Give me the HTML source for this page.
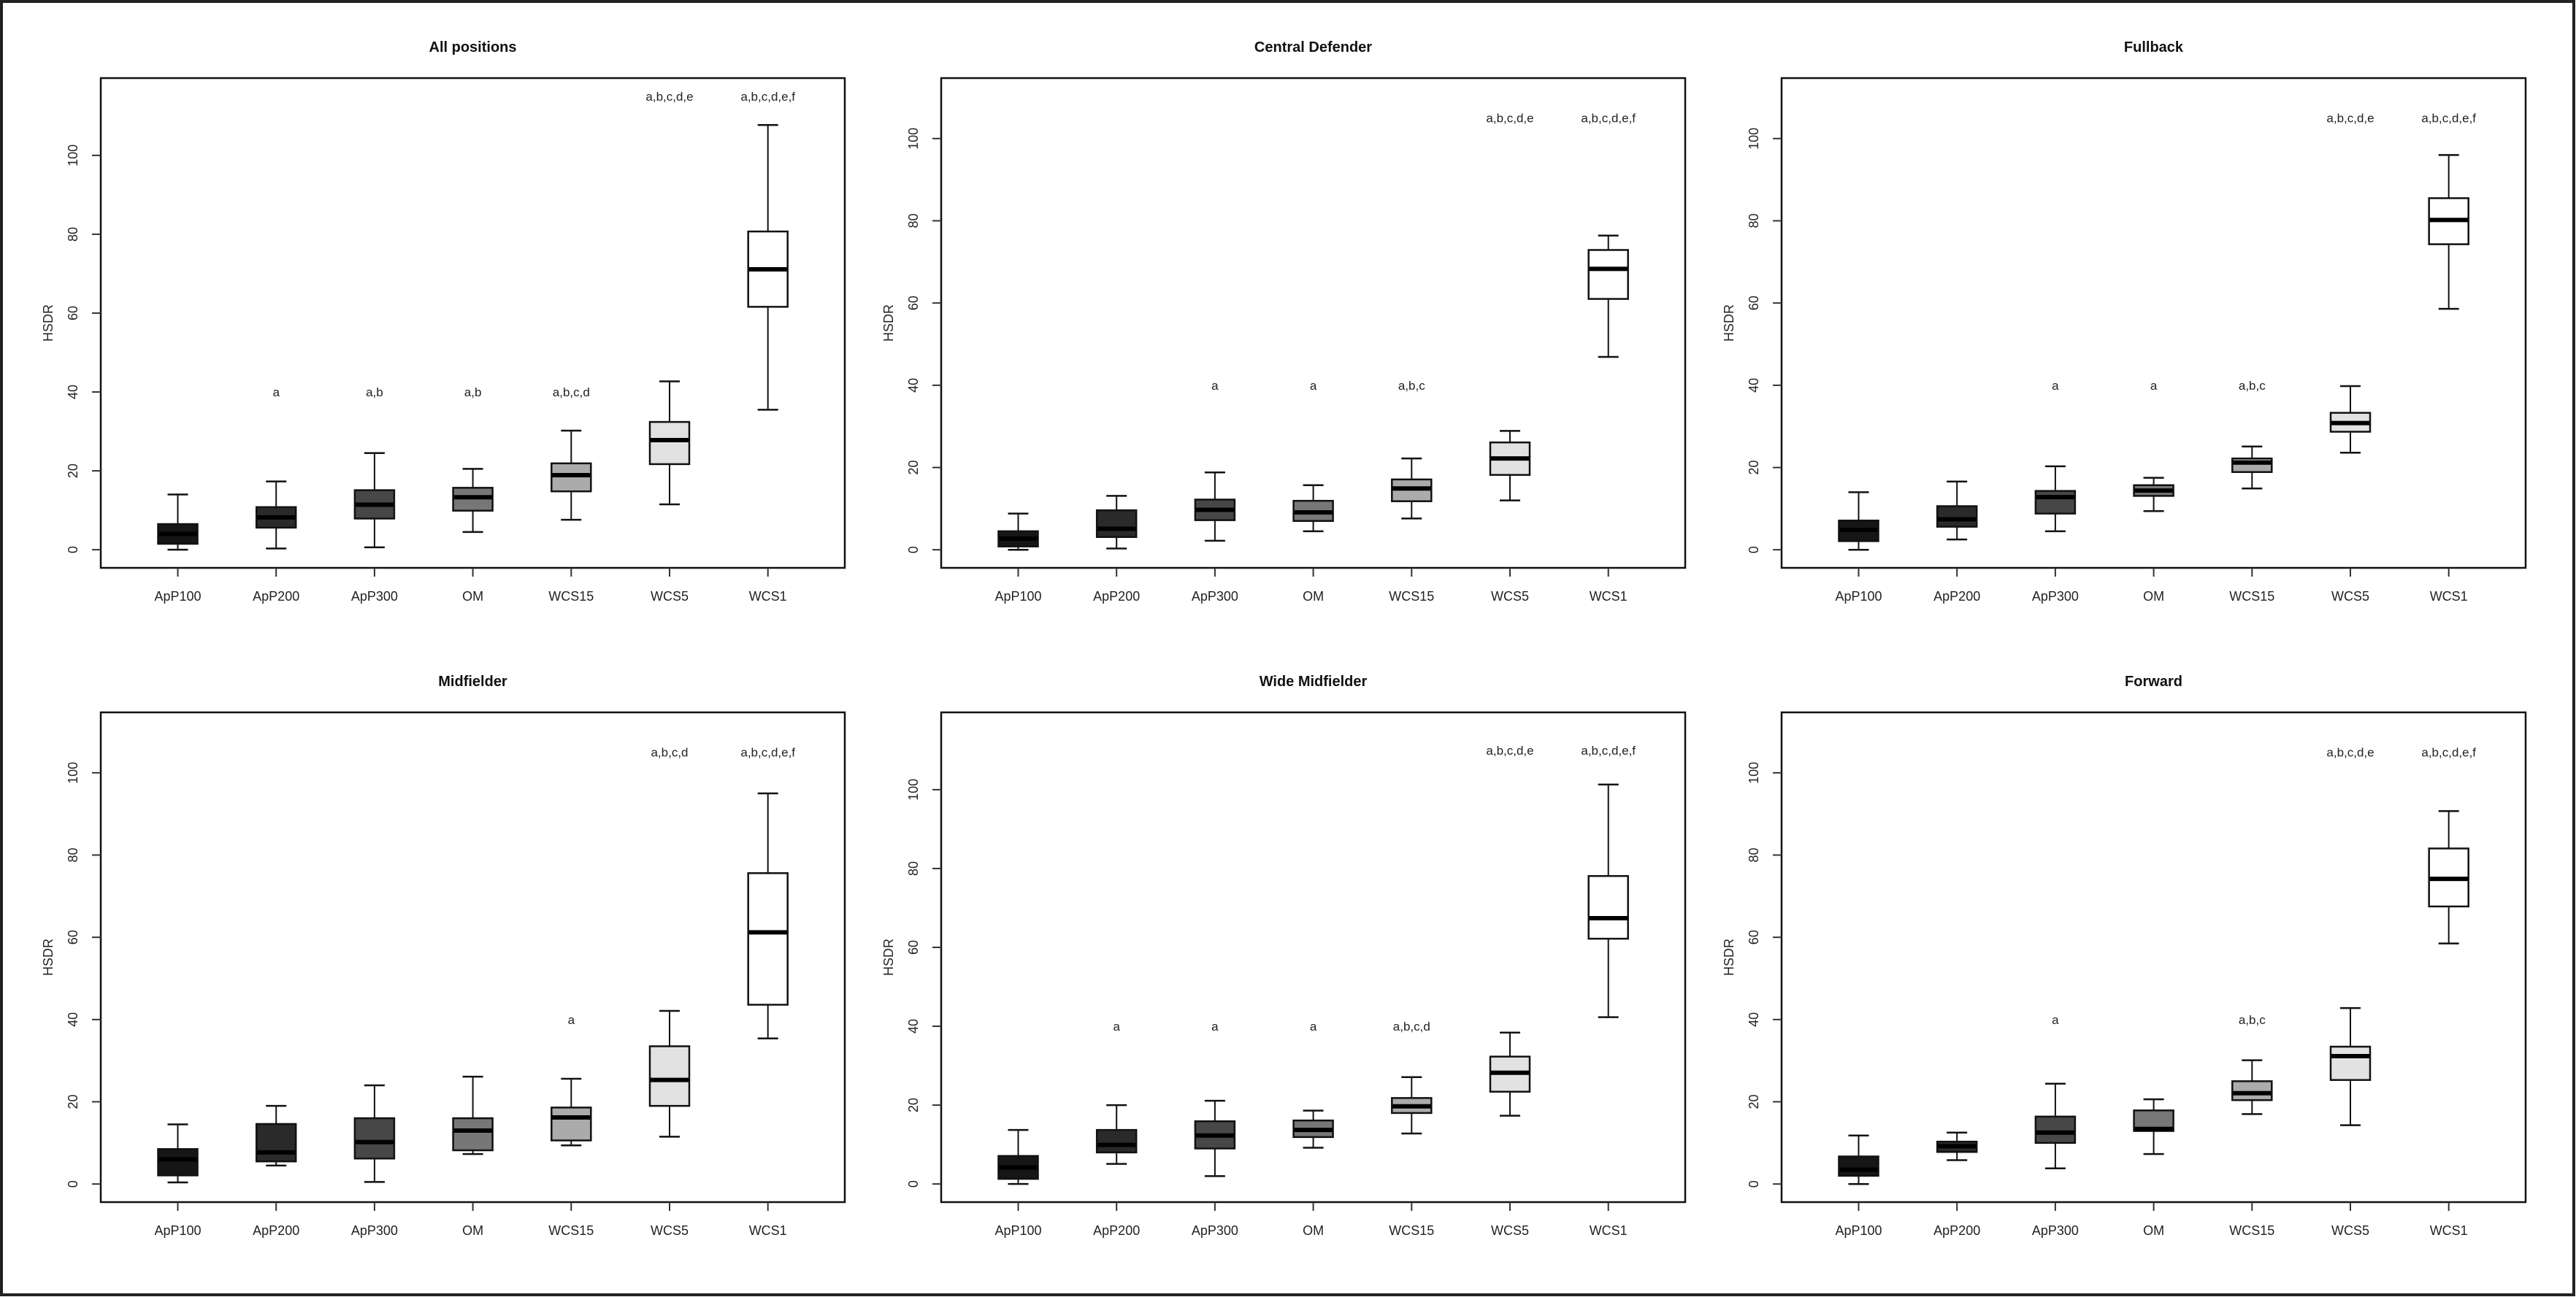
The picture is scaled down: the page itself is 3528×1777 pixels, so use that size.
<!DOCTYPE html>
<html><head><meta charset="utf-8">
<style>
html,body{margin:0;padding:0;background:#fff;}
svg{display:block;font-family:"Liberation Sans",Arial,sans-serif;}
</style></head>
<body>
<svg id="fig" width="3528" height="1777" viewBox="0 0 3528 1777" xmlns="http://www.w3.org/2000/svg">
<rect x="2" y="2" width="3523" height="1772" fill="#fff" stroke="#222" stroke-width="4"/>
</svg>
<script>
const categories = ["ApP100","ApP200","ApP300","OM","WCS15","WCS5","WCS1"];
const panelTitles = ["All positions","Central Defender","Fullback","Midfielder","Wide Midfielder","Forward"];
const yTicks = [0,20,40,60,80,100];
// each: [lowWhisker, Q1, median, Q3, highWhisker]
const allPositions = [[0,1.5,4,6.5,14],[0.3,5.6,8.2,10.8,17.3],[0.6,7.9,11.4,15.1,24.5],[4.5,9.9,13.3,15.7,20.5],[7.6,14.8,18.9,21.9,30.2],[11.5,21.7,27.8,32.4,42.7],[35.5,61.6,71.1,80.7,107.7]];
const centralDefender = [[0,0.8,2.7,4.5,8.8],[0.3,3.1,5.1,9.6,13.1],[2.2,7.2,9.7,12.2,18.8],[4.5,7.0,9.1,11.9,15.7],[7.6,11.8,14.9,17.1,22.2],[12.0,18.2,22.2,26.1,28.9],[46.9,61.0,68.3,72.9,76.4]];
const fullback = [[0,2.1,4.8,7.1,14.0],[2.5,5.6,7.4,10.6,16.6],[4.5,8.8,12.8,14.3,20.3],[9.4,13.1,14.4,15.7,17.5],[14.9,18.9,21.2,22.2,25.1],[23.6,28.7,30.8,33.3,39.8],[58.6,74.3,80.2,85.5,96.0]];
const midfielder = [[0.4,2.1,6.0,8.5,14.5],[4.5,5.5,7.7,14.6,19.0],[0.5,6.2,10.2,16.0,24.0],[7.3,8.2,13.0,16.0,26.1],[9.4,10.6,16.2,18.6,25.6],[11.5,19.0,25.3,33.5,42.1],[35.4,43.6,61.2,75.6,95.0]];
const wideMidfielder = [[0,1.3,4.2,7.1,13.7],[5.1,8.0,9.9,13.7,20.0],[2.0,9.0,12.3,15.9,21.1],[9.2,11.9,13.7,16.1,18.6],[12.8,18.0,19.7,21.8,27.1],[17.3,23.4,28.2,32.3,38.4],[42.3,62.2,67.4,78.1,101.3]];
const forward = [[0,2.0,3.5,6.7,11.8],[5.8,7.8,9.2,10.3,12.5],[3.8,10.0,12.5,16.4,24.4],[7.3,12.9,13.4,17.9,20.6],[17.0,20.4,22.1,25.0,30.1],[14.3,25.3,31.1,33.4,42.8],[58.5,67.5,74.2,81.6,90.7]];
const panelData = [allPositions,centralDefender,fullback,midfielder,wideMidfielder,forward];
const annotations = [
  ["","a","a,b","a,b","a,b,c,d","a,b,c,d,e","a,b,c,d,e,f"],
  ["","","a","a","a,b,c","a,b,c,d,e","a,b,c,d,e,f"],
  ["","","a","a","a,b,c","a,b,c,d,e","a,b,c,d,e,f"],
  ["","","","","a","a,b,c,d","a,b,c,d,e,f"],
  ["","a","a","a","a,b,c,d","a,b,c,d,e","a,b,c,d,e,f"],
  ["","","a","","a,b,c","a,b,c,d,e","a,b,c,d,e,f"]
];
const annotLow = [40,40,40,40,40,40];
const annotHigh = [115,105,105,105,110,105];
const yMin = [-4.6,-4.4,-4.4,-4.4,-4.6,-4.4];
const yMax = [119.6,114.7,114.7,114.7,119.6,114.7];
const fills = ["#161616","#2a2a2a","#474747","#777777","#ababab","#e2e2e2","#ffffff"];

const NS="http://www.w3.org/2000/svg";
const svg=document.getElementById('fig');
function mk(tag,attrs,parent){const e=document.createElementNS(NS,tag);for(const k in attrs)e.setAttribute(k,attrs[k]);(parent||svg).appendChild(e);return e;}
const colLeft=[138,1289,2440], rowTop=[107,976], W=1019, H=671;

panelData.forEach((data,p)=>{
  const L=colLeft[p%3], T=rowTop[Math.floor(p/3)], B=T+H, R=L+W;
  const g=mk('g',{});
  
  
  const y=v=>B-(v-yMin[p])/(yMax[p]-yMin[p])*H;
  const x=i=>L+105.5+134.7*i;
  const t=mk('text',{x:L+W/2,y:T-36,'text-anchor':'middle','font-size':20,'font-weight':'bold',fill:'#111'},g);
  t.textContent=panelTitles[p];
  
  
  const fr=mk('rect',{x:L,y:T,width:W,height:H,fill:'none',stroke:'#111','stroke-width':2.5},g);
  
  
  yTicks.forEach(v=>{
    const tk=mk('line',{x1:L,x2:L-12,y1:y(v),y2:y(v),stroke:'#333','stroke-width':2},g);
    
    
    const tl=mk('text',{x:0,y:0,'text-anchor':'middle','font-size':18,fill:'#222',transform:`translate(${L-32},${y(v)}) rotate(-90)`},g);
    tl.textContent=v;
    
    
  });
  const yl=mk('text',{x:0,y:0,'text-anchor':'middle','font-size':18,fill:'#222',transform:`translate(${L-66},${T+H/2}) rotate(-90)`},g);
  yl.textContent='HSDR';
  
  
  categories.forEach((c,i)=>{
    const cx=x(i);
    const tk=mk('line',{x1:cx,x2:cx,y1:B,y2:B+12,stroke:'#333','stroke-width':2},g);
    
    
    const tl=mk('text',{x:cx,y:B+45,'text-anchor':'middle','font-size':18,fill:'#222'},g);
    tl.textContent=c;
    
    
    const d=data[i];
    const bg=mk('g',{},g);
    
    
    mk('line',{x1:cx,x2:cx,y1:y(d[0]),y2:y(d[1]),stroke:'#111','stroke-width':2},bg);
    mk('line',{x1:cx,x2:cx,y1:y(d[3]),y2:y(d[4]),stroke:'#111','stroke-width':2},bg);
    mk('line',{x1:cx-14,x2:cx+14,y1:y(d[0]),y2:y(d[0]),stroke:'#111','stroke-width':2.5},bg);
    mk('line',{x1:cx-14,x2:cx+14,y1:y(d[4]),y2:y(d[4]),stroke:'#111','stroke-width':2.5},bg);
    mk('rect',{x:cx-27,y:y(d[3]),width:54,height:y(d[1])-y(d[3]),fill:fills[i],stroke:'#111','stroke-width':2.5},bg);
    mk('line',{x1:cx-26,x2:cx+26,y1:y(d[2]),y2:y(d[2]),stroke:'#000','stroke-width':6},bg);
    const a=annotations[p][i];
    if(a){
      const isHigh=i>=5;
      const at=mk('text',{x:cx,y:y(isHigh?annotHigh[p]:annotLow[p])+6,'text-anchor':'middle','font-size':17,fill:'#222'},g);
      at.textContent=a;
      
      
    }
  });
});
</script>
</body></html>
